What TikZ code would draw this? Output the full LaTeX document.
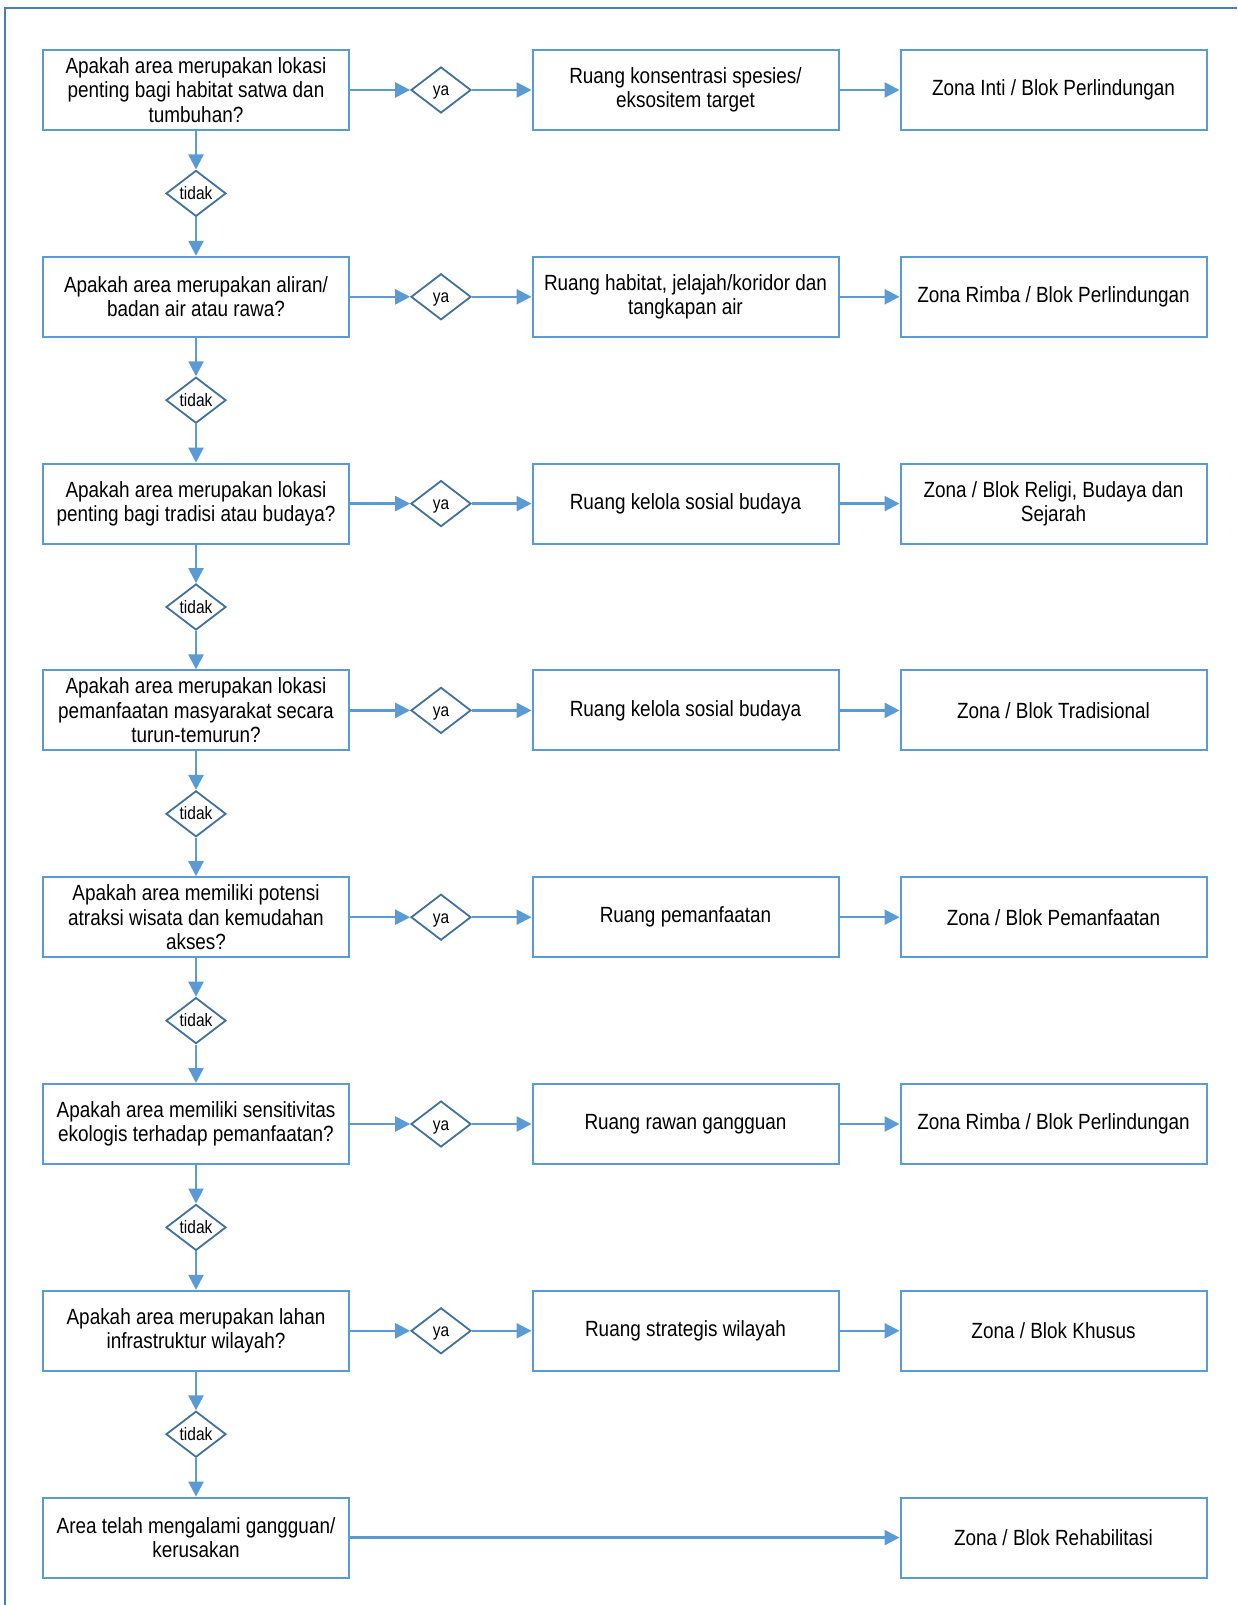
\documentclass[tikz,border=0pt]{standalone}
\usepackage{fontspec}
\setmainfont[FakeStretch=0.86]{Liberation Sans}
\usetikzlibrary{shapes.geometric,arrows.meta}

\definecolor{lineblue}{HTML}{5B9BD5}
\definecolor{boxblue}{HTML}{5B9BD5}
\definecolor{dmdblue}{HTML}{41719C}
\definecolor{frameblue}{HTML}{4A7EBB}

\tikzset{
  stepbox/.style={draw=boxblue, line width=2pt, fill=white, rectangle,
    minimum width=306pt, minimum height=80pt, inner sep=0pt, align=center,
    font=\fontsize{22}{24.5}\selectfont},
  choice/.style={draw=dmdblue, line width=1.8pt, fill=white, diamond,
    minimum width=60pt, minimum height=46pt, inner sep=0pt, aspect=1.3,
    text height=12.5pt, text depth=0.5pt,
    font=\fontsize{18}{20}\selectfont},
  flow/.style={draw=lineblue, line width=2.5pt,
    -{Triangle[length=15pt,width=15pt]}, shorten >=0pt}
}

\begin{document}
\begin{tikzpicture}[x=1pt,y=-1pt]
\useasboundingbox (0,0) rectangle (1237,1605);
\fill[white] (0,0) rectangle (1237,1605);
% open frame along the top and left
\draw[frameblue, line width=2pt] (5,1605) -- (5,8) -- (1237,8);

% questions (left column)
\node[stepbox] (q1) at (196,90)    {Apakah area merupakan lokasi\\penting bagi habitat satwa dan\\tumbuhan?};
\node[stepbox] (q2) at (196,296.8) {Apakah area merupakan aliran/\\badan air atau rawa?};
\node[stepbox] (q3) at (196,503.6) {Apakah area merupakan lokasi\\penting bagi tradisi atau budaya?};
\node[stepbox] (q4) at (196,710.4) {Apakah area merupakan lokasi\\pemanfaatan masyarakat secara\\turun-temurun?};
\node[stepbox] (q5) at (196,917.2) {Apakah area memiliki potensi\\atraksi wisata dan kemudahan\\akses?};
\node[stepbox] (q6) at (196,1124)  {Apakah area memiliki sensitivitas\\ekologis terhadap pemanfaatan?};
\node[stepbox] (q7) at (196,1330.8){Apakah area merupakan lahan\\infrastruktur wilayah?};
\node[stepbox] (q8) at (196,1537.6){Area telah mengalami gangguan/\\kerusakan};

% spaces (middle column)
\node[stepbox] (r1) at (685.5,90)    {Ruang konsentrasi spesies/\\eksositem target};
\node[stepbox] (r2) at (685.5,296.8) {Ruang habitat, jelajah/koridor dan\\tangkapan air};
\node[stepbox] (r3) at (685.5,503.6) {Ruang kelola sosial budaya};
\node[stepbox] (r4) at (685.5,710.4) {Ruang kelola sosial budaya};
\node[stepbox] (r5) at (685.5,917.2) {Ruang pemanfaatan};
\node[stepbox] (r6) at (685.5,1124)  {Ruang rawan gangguan};
\node[stepbox] (r7) at (685.5,1330.8){Ruang strategis wilayah};

% zones (right column)
\node[stepbox] (z1) at (1053.5,90)    {Zona Inti / Blok Perlindungan};
\node[stepbox] (z2) at (1053.5,296.8) {Zona Rimba / Blok Perlindungan};
\node[stepbox] (z3) at (1053.5,503.6) {Zona / Blok Religi, Budaya dan\\Sejarah};
\node[stepbox] (z4) at (1053.5,710.4) {Zona / Blok Tradisional};
\node[stepbox] (z5) at (1053.5,917.2) {Zona / Blok Pemanfaatan};
\node[stepbox] (z6) at (1053.5,1124)  {Zona Rimba / Blok Perlindungan};
\node[stepbox] (z7) at (1053.5,1330.8){Zona / Blok Khusus};
\node[stepbox] (z8) at (1053.5,1537.6){Zona / Blok Rehabilitasi};

% "ya" decisions
\foreach \i/\yy in {1/90,2/296.8,3/503.6,4/710.4,5/917.2,6/1124,7/1330.8}{
  \node[choice] (y\i) at (441,\yy) {ya};
}
% "tidak" decisions
\foreach \i/\yy in {1/193.4,2/400.2,3/607,4/813.8,5/1020.6,6/1227.4,7/1434.2}{
  \node[choice] (n\i) at (196,\yy) {tidak};
}

% horizontal flows
\foreach \i in {1,...,7}{
  \draw[flow] (q\i.east) -- (y\i.west);
  \draw[flow] (y\i.east) -- (r\i.west);
  \draw[flow] (r\i.east) -- (z\i.west);
}
\draw[flow] (q8.east) -- (z8.west);

% vertical flows
\foreach \i [evaluate=\i as \j using int(\i+1)] in {1,...,7}{
  \draw[flow] (q\i.south) -- (n\i.north);
  \draw[flow] (n\i.south) -- (q\j.north);
}
\end{tikzpicture}
\end{document}
